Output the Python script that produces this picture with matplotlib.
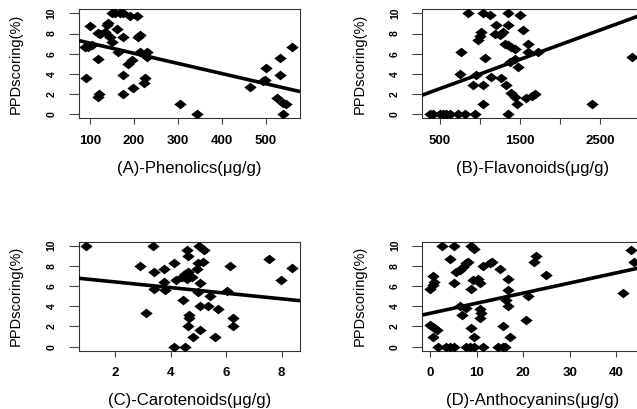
import matplotlib
matplotlib.use('Agg')
import matplotlib.pyplot as plt

plt.rcParams['font.family'] = ['Liberation Sans', 'DejaVu Sans']

ylabel = 'PPDscoring(%)'

# (A) Phenolics
phen_x = [91, 100, 96, 89, 104, 119, 118, 121, 119, 123, 138, 142, 134, 145,
          149, 157, 168, 176, 161, 149, 164, 176, 176, 176, 187, 195, 191, 206,
          199, 214, 210, 214, 229, 229, 225, 223, 305, 344, 464, 498, 494, 501,
          533, 533, 525, 540, 546, 540, 559]
phen_y = [3.6, 8.7, 6.7, 6.7, 6.9, 5.45, 1.75, 2.0, 8.1, 8.0, 8.8, 9.0, 8.2, 7.7,
          10, 10, 10, 10, 8.4, 7.2, 6.2, 7.7, 3.9, 2.0, 5.0, 5.4, 9.7, 9.7,
          2.6, 7.9, 7.7, 6.2, 6.2, 5.7, 3.6, 3.1, 1.0, 0, 2.7, 3.4, 3.3, 4.6,
          5.6, 3.9, 1.65, 1.1, 1.0, 0, 6.7]
phen_fit = (8.05, -0.01004)

# (B) Flavonoids
flav_x = [370, 412, 496, 538, 579, 621, 725, 809, 934, 1352,
          746, 759, 851, 913, 955, 1018, 976, 1000, 1039, 1039, 1060, 1039, 1122,
          1143, 1206, 1268, 1185, 1247, 1289, 1352, 1352, 1310, 1352, 1393, 1435,
          1372, 1435, 1331, 1393, 1435, 1498, 1477, 1468, 1540, 1581, 1644, 1686,
          1602, 1602, 1727, 2395, 2900]
flav_y = [0, 0, 0, 0, 0, 0, 0, 0, 0, 0,
          4.0, 6.2, 10, 2.9, 3.9, 8.2, 7.4, 7.8, 2.9, 1.0, 5.6, 10, 9.8,
          3.7, 8.8, 3.6, 8.0, 7.9, 8.2, 10, 8.8, 7.0, 6.9, 6.7, 6.5,
          5.2, 5.5, 2.9, 2.1, 1.75, 9.8, 4.7, 1.0, 8.3, 1.6, 1.8, 2.0,
          7.0, 6.2, 6.2, 1.0, 5.65]
flav_fit = (1.09, 0.0029)

# (C) Carotenoids
caro_x = [0.96, 3.38, 2.9, 3.4, 3.76, 3.76, 3.4, 3.8, 3.12, 4.12, 4.2, 4.4,
          4.5, 4.64, 4.58, 4.76, 4.58, 4.64, 4.46, 4.68, 4.68, 4.64, 4.8, 4.12,
          4.52, 4.94, 5.04, 5.2, 5.0, 5.16, 5.06, 5.0, 5.06, 5.06, 5.42, 5.36,
          5.72, 5.6, 6.02, 6.14, 6.26, 6.26, 7.56, 7.96, 8.36]
caro_y = [10, 10, 8.0, 7.4, 7.7, 6.4, 5.7, 5.6, 3.3, 8.3, 6.6, 6.9,
          7.2, 7.4, 6.7, 6.9, 9.6, 9.0, 4.6, 3.1, 2.8, 2.0, 1.0, 0,
          0, 7.7, 10, 9.6, 8.3, 8.4, 6.3, 5.4, 4.0, 1.7, 5.0, 4.0,
          3.7, 1.0, 5.5, 8.0, 2.8, 2.0, 8.7, 6.6, 7.8]
caro_fit = (6.97, -0.279)

# (D) Anthocyanins
anth_x = [0, 0.6, 0.9, 0.6, 0, 0.6, 1.4, 0.6,
          1.6, 3.4, 4.2, 5.2, 7.7, 8.5, 9.5, 11.3, 14.6, 15.6, 16.0,
          2.5, 5.2, 8.8, 9.5, 4.2, 5.2, 5.6, 6.3, 7.0, 7.7, 8.1,
          6.3, 6.9, 7.7, 8.8, 8.8, 9.5, 9.2, 10.3, 10.6, 10.6, 11.0, 10.6,
          11.3, 12.8, 13.2, 14.9, 16.7, 16.7, 16.3, 16.7, 15.6, 17.1,
          20.6, 21.1, 22.3, 22.8, 24.9, 41.4, 43.1, 43.8]
anth_y = [5.7, 6.1, 6.4, 7.0, 2.1, 1.9, 1.65, 1.0,
          0, 0, 0, 0, 0, 0, 0, 0, 0, 0, 0,
          10, 10, 10, 9.7, 8.7, 6.3, 7.4, 7.6, 7.9, 8.3, 8.4,
          4.0, 3.1, 3.8, 5.7, 1.8, 1.0, 6.6, 6.7, 6.3, 3.7, 3.3, 2.8,
          8.0, 8.3, 8.4, 7.7, 6.7, 5.6, 4.6, 4.0, 2.0, 1.0,
          2.6, 5.0, 8.4, 9.0, 7.1, 5.3, 9.6, 8.4]
anth_fit = (3.31, 0.1)

W, H = 637, 409
fig = plt.figure(figsize=(W / 100, H / 100), dpi=100)

# diamond a little wider than tall, like the stretched R pch 18
wide_diamond = [(-1, 0), (0, 0.78), (1, 0), (0, -0.78), (-1, 0)]


def panel(px_left, px_top, px_bottom, xs, ys, fit, xlim, xticks, xticklabels, xlabel):
    ax = fig.add_axes([px_left / W, 1 - px_bottom / H, 221 / W, (px_bottom - px_top) / H])
    ax.scatter(xs, ys, marker=wide_diamond, s=80, color='black', linewidths=0, zorder=3)
    a, b = fit
    ax.plot(list(xlim), [a + b * xlim[0], a + b * xlim[1]], color='black', lw=2.6,
            solid_capstyle='butt', zorder=4)
    ax.set_xlim(*xlim)
    ax.set_ylim(-0.4, 10.4)
    ax.set_yticks(range(0, 11, 2))
    ax.set_yticklabels([str(v) for v in range(0, 11, 2)], rotation=90, va='center',
                       fontweight='bold', fontsize=7.5)
    ax.set_xticks(xticks)
    ax.set_xticklabels(xticklabels, fontweight='bold', fontsize=9.5)
    ax.tick_params(axis='y', length=7, width=0.8, pad=9, color='#444444')
    ax.tick_params(axis='x', length=4, width=0.8, pad=8, color='#444444')
    for sp in ax.spines.values():
        sp.set_linewidth(0.8)
        sp.set_color('#333333')
    ax.set_xlabel(xlabel, fontsize=12, labelpad=10)
    ax.set_ylabel(ylabel, fontsize=10.5, labelpad=17)
    return ax


panel(79, 9.3, 118.3, phen_x, phen_y, phen_fit, (75, 578),
      [100, 200, 300, 400, 500], ['100', '200', '300', '400', '500'],
      '(A)-Phenolics(\u03bcg/g)')
panel(422.3, 9.3, 118.3, flav_x, flav_y, flav_fit, (279, 3041),
      [500, 1000, 1500, 2000, 2500, 3000], ['500', '', '1500', '', '2500', ''],
      '(B)-Flavonoids(\u03bcg/g)')
panel(79, 241.7, 350.7, caro_x, caro_y, caro_fit, (0.7, 8.66),
      [2, 4, 6, 8], ['2', '4', '6', '8'],
      '(C)-Carotenoids(\u03bcg/g)')
panel(422.3, 241.7, 350.7, anth_x, anth_y, anth_fit, (-1.72, 45.8),
      [0, 10, 20, 30, 40], ['0', '10', '20', '30', '40'],
      '(D)-Anthocyanins(\u03bcg/g)')

fig.savefig('out.png', dpi=100)
